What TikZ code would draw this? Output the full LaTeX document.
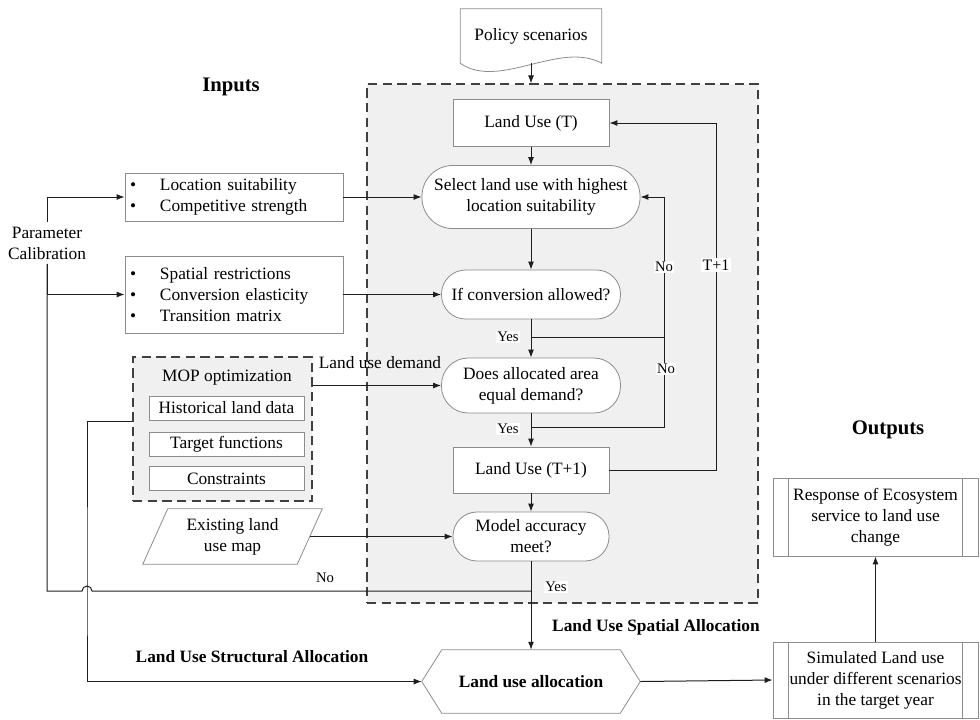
\documentclass[tikz,border=0pt]{standalone}
\usepackage{fontspec}
\setmainfont{Liberation Serif}
\usepackage{tikz}
\usetikzlibrary{positioning, arrows, arrows.meta, calc}
\definecolor{bordc}{HTML}{8C8C8C}
\definecolor{bgc}{HTML}{F0F0F0}
\definecolor{linec}{HTML}{1E1E1E}
\tikzset{>={Latex[length=6pt, width=4.5pt]}}
\tikzset{
	outl/.style={draw=bordc, line width=0.6pt},
	box/.style={outl, fill=white, inner sep=2pt, align=center},
	term/.style={box, rounded corners=#1},
	frame/.style={draw=black!75, fill=bgc, dash pattern=on 7pt off 4pt, line width=0.9pt},
	conn/.style={draw=linec, line width=0.75pt},
	lbl/.style={fill=white, inner sep=1pt, font=\fontsize{11}{13}\selectfont},
	head/.style={font=\fontsize{13}{15.75}\selectfont\bfseries}
}
\newcommand{\bul}{\makebox[22.5pt][l]{\textbullet}}

\begin{document}
\begin{tikzpicture}[x=0.75pt, y=-0.75pt]
		\useasboundingbox (0,0) rectangle (980,719);
		\begin{scope}[every node/.append style={font=\fontsize{13}{15.75}\selectfont}]
			\node[frame, minimum width=293.25pt, minimum height=389.25pt] (18) at (562.5,343.5) {};
			\node[frame, minimum width=134.25pt, minimum height=108pt] (10) at (222.5,429) {};

			\node[minimum width=105.75pt, minimum height=40.5pt] (0) at (531,36) {Policy scenarios};
			\node[box, minimum width=117pt, minimum height=35.25pt] (1) at (531,123) {Land Use (T)};
			\node[term=23pt, minimum width=163.5pt, minimum height=47.25pt] (2) at (531,197) {Select land use with highest\\location suitability};
			\node[term=18pt, minimum width=134.25pt, minimum height=36.75pt] (3) at (531,294.5) {If conversion allowed?};
			\node[term=20pt, minimum width=134.25pt, minimum height=41.25pt] (4) at (531,385.5) {Does allocated area\\equal demand?};
			\node[box, minimum width=117pt, minimum height=34.5pt] (5) at (531,470) {Land Use (T+1)};
			\node[term=18pt, minimum width=117pt, minimum height=36.75pt] (6) at (531,536.5) {Model accuracy\\meet?};
			\node[head, minimum width=133.5pt, minimum height=47.25pt] (7) at (531,681.5) {Land use allocation};

			\node[box, minimum width=163.5pt, minimum height=36pt, text width=156pt, align=left] (8) at (234,197) {\bul Location suitability\\\bul Competitive strength};
			\node[box, minimum width=163.5pt, minimum height=57.75pt, text width=156pt, align=left] (9) at (234,294.5) {\bul Spatial restrictions\\\bul Conversion elasticity\\\bul Transition matrix};
			\node (11) at (227,378) {MOP optimization};
			\node[box, minimum width=116.25pt, minimum height=18pt] (12) at (226.5,408) {Historical land data};
			\node[box, minimum width=116.25pt, minimum height=18pt] (13) at (226.5,444) {Target functions};
			\node[box, minimum width=116.25pt, minimum height=18pt] (14) at (226.5,478.5) {Constraints};
			\node[minimum width=134.25pt, minimum height=41.25pt, align=center] (15) at (232.5,536.5) {Existing land\\use map};

			\node[box, minimum width=153.75pt, minimum height=58.5pt] (16) at (875.5,517) {Response of Ecosystem\\service to land use\\change};
			\node[box, minimum width=153.75pt, minimum height=57pt] (17) at (875.5,680) {Simulated Land use\\under different scenarios\\in the target year};

			\node[align=center] (pc) at (47,243) {Parameter\\Calibration};
			\node (ld) at (380,363) {Land use demand};
			\node[head, font=\fontsize{15.5}{18}\selectfont\bfseries] (in) at (231,87) {Inputs};
			\node[head, font=\fontsize{15.5}{18}\selectfont\bfseries] (out) at (888,430) {Outputs};
			\node[head] (sa) at (656,627) {Land Use Spatial Allocation};
			\node[head] (st) at (252,657) {Land Use Structural Allocation};
		\end{scope}

		\draw[outl] (0.south west) -- (0.north west) -- (0.north east) -- (0.south east) .. controls +(-42,-23) and +(39,27) .. (0.south west);
		\draw[outl] (7.north west) -- (7.north east) -- ([xshift=15pt]7.east) -- (7.south east) -- (7.south west) -- ([xshift=-15pt]7.west) -- cycle;
		\draw[outl] (15.south west) -- ([xshift=18.75pt]15.north west) -- (15.north east) -- ([xshift=-18.75pt]15.south east) -- cycle;
		\draw[outl] ([xshift=12pt]16.north west) -- ([xshift=12pt]16.south west) ([xshift=-12pt]16.north east) -- ([xshift=-12pt]16.south east);
		\draw[outl] ([xshift=12pt]17.north west) -- ([xshift=12pt]17.south west) ([xshift=-12pt]17.north east) -- ([xshift=-12pt]17.south east);

		\coordinate (a) at (664,337);
		\coordinate (b) at (664,427);
		\coordinate (c) at (716,300);
		\coordinate (h) at (87,591);

		\draw[conn, ->] (0.south) -- (0.south |- 18.north);
		\draw[conn, ->] (1) -- (2);
		\draw[conn, ->] (2) -- (3);
		\draw[conn, ->] (3) -- (4);
		\draw[conn, ->] (4) -- (5);
		\draw[conn, ->] (5) -- (6);
		\draw[conn, ->] (6) -- (7.north);
		\draw[conn] (3.south |- a) -- (a);
		\draw[conn, ->] (4.south |- b) -- (b) -- (b |- 2.east) -- (2.east);
		\draw[conn, ->] (5.east) -| (c) |- (1.east);
		\draw[conn, ->] (8.east) -- (2.west);
		\draw[conn, ->] (9.east) -- (3.west);
		\draw[conn, ->] (4.west -| 10.east) -- (4.west);
		\draw[conn, ->] ([xshift=-9.375pt]15.east) -- (6.west);
		\draw[conn, ->] (pc.north) |- (8.west);
		\draw[conn, ->] (pc.south) |- (9.west);
		\draw[conn] (6.south |- h) -- ([xshift=3.75pt]h) arc[start angle=0, end angle=180, radius=3.75pt] -- (h -| pc.south) -- (pc.south);
		\draw[conn, ->] ([yshift=6pt]10.west) -| (h) |- ([xshift=-15pt]7.west);
		\draw[conn, ->] ([xshift=15pt]7.east) -- (17.west);
		\draw[conn, ->] (17) -- (16);

		\node[lbl] (y1) at (508,337) {Yes};
		\node[lbl] (y2) at (508,429) {Yes};
		\node[lbl] (y3) at (556,587) {Yes};
		\node[lbl] (n1) at (664,267) {No};
		\node[lbl] (n2) at (666,369) {No};
		\node[lbl, fill=none] (n3) at (325,578) {No};
		\node[lbl, font=\fontsize{12}{14}\selectfont] (t1) at (716,265) {T+1};
	\end{tikzpicture}
\end{document}
